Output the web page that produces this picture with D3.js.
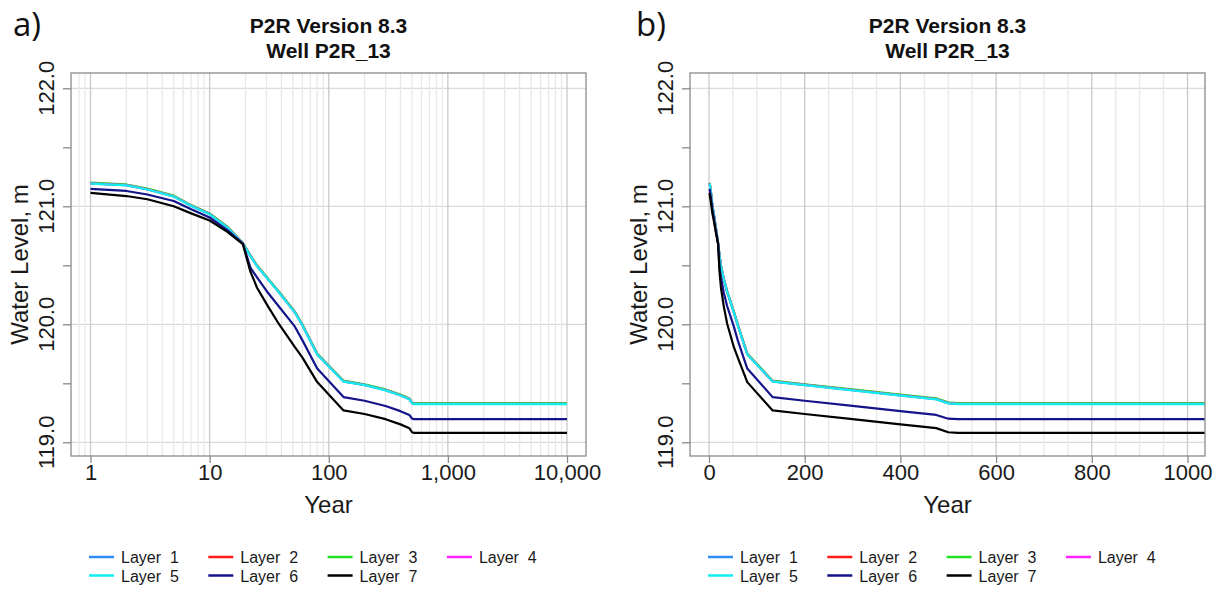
<!DOCTYPE html>
<html>
<head>
<meta charset="utf-8">
<script src="https://cdn.jsdelivr.net/npm/d3@7"></script>
<style>
  body { margin: 0; background: #fff; }
  svg { display: block; font-family: 'Liberation Sans', Arial, sans-serif; }
</style>
</head>
<body>
<svg id="chart" width="1225" height="592"></svg>
<script>
// model output times (years) and simulated water level per layer (m)
const YEARS = [1, 2, 3, 5, 7, 10, 14, 19, 22, 25, 31, 38, 52, 60, 80, 133, 200, 300, 400, 475, 500, 520, 10000]

const LAYER_1 = [121.195, 121.180, 121.145, 121.085, 121.005, 120.935, 120.825, 120.687, 120.580, 120.495, 120.382, 120.275, 120.102, 119.995, 119.747, 119.517, 119.487, 119.443, 119.399, 119.367, 119.333, 119.327, 119.327]
const LAYER_2 = [121.196, 121.181, 121.146, 121.086, 121.006, 120.936, 120.826, 120.688, 120.581, 120.496, 120.383, 120.276, 120.103, 119.996, 119.748, 119.518, 119.488, 119.444, 119.400, 119.368, 119.334, 119.328, 119.328]
const LAYER_3 = [121.200, 121.185, 121.150, 121.090, 121.010, 120.940, 120.830, 120.690, 120.585, 120.500, 120.387, 120.280, 120.107, 120.000, 119.752, 119.522, 119.492, 119.448, 119.404, 119.372, 119.338, 119.332, 119.332]
const LAYER_4 = [121.194, 121.179, 121.144, 121.084, 121.004, 120.934, 120.824, 120.686, 120.579, 120.494, 120.381, 120.274, 120.101, 119.994, 119.746, 119.516, 119.486, 119.442, 119.398, 119.366, 119.332, 119.326, 119.326]
const LAYER_5 = [121.192, 121.177, 121.142, 121.082, 121.002, 120.932, 120.822, 120.685, 120.577, 120.492, 120.379, 120.272, 120.099, 119.992, 119.744, 119.514, 119.484, 119.440, 119.396, 119.364, 119.330, 119.324, 119.324]
const LAYER_6 = [121.147, 121.130, 121.100, 121.045, 120.975, 120.905, 120.800, 120.685, 120.480, 120.397, 120.265, 120.153, 119.980, 119.866, 119.625, 119.383, 119.352, 119.308, 119.264, 119.232, 119.200, 119.197, 119.197]
const LAYER_7 = [121.113, 121.087, 121.060, 121.000, 120.940, 120.880, 120.785, 120.680, 120.446, 120.310, 120.150, 120.005, 119.806, 119.720, 119.510, 119.270, 119.240, 119.196, 119.152, 119.120, 119.085, 119.080, 119.080]

const LAYER_NAMES = ['Layer  1', 'Layer  2', 'Layer  3', 'Layer  4', 'Layer  5', 'Layer  6', 'Layer  7']
const LAYER_COLORS = ['#2f8cf5', '#ff1a1a', '#22e022', '#ff22ff', '#11eeee', '#14148a', '#000000']
const LAYER_VALUES = [LAYER_1, LAYER_2, LAYER_3, LAYER_4, LAYER_5, LAYER_6, LAYER_7]

const Y_TICKS = [119, 119.5, 120, 120.5, 121, 121.5, 122]
const Y_LABELS = [119, 120, 121, 122]
const LOG_TICKS = [1, 10, 100, 1000, 10000]
const LIN_TICKS = [0, 200, 400, 600, 800, 1000]
const TITLE_1 = 'P2R Version 8.3'
const TITLE_2 = 'Well P2R_13'

const TOP = 73
const BOTTOM = 456
const GRID_MAJOR = '#c9c9c9'
const GRID_MINOR = '#e8e8e8'
const FRAME = '#8a8a8a'

const svg = d3.select('#chart')
const y = d3.scaleLinear().domain([119, 122]).range([442.3, 88.3])

const series = LAYER_VALUES.map((vals, i) => ({
    name: LAYER_NAMES[i],
    color: LAYER_COLORS[i],
    points: YEARS.map((yr, j) => ({year: yr, value: vals[j]}))
}))

// minor grid positions
const logMinor = []
for (let k = -1; k <= 4; k++) {
    for (let m = 2; m <= 9; m++) logMinor.push(m * Math.pow(10, k))
}
const linMinor = d3.range(-50, 1100, 50).filter((d) => d % 200 !== 0)

const panels = [
    {id: 'a', tag: 'a)', tagX: 13, left: 71, right: 586,
     x: d3.scaleLog().domain([1, 10000]).range([90.5, 567]),
     major: LOG_TICKS, minor: logMinor, fmt: d3.format(',')},
    {id: 'b', tag: 'b)', tagX: 636, left: 690, right: 1205,
     x: d3.scaleLinear().domain([0, 1000]).range([709, 1187.5]),
     major: LIN_TICKS, minor: linMinor, fmt: d3.format('d')}
]

panels.forEach((p) => {
    const g = svg.append('g')
    const cx = (p.left + p.right) / 2
    const inBox = (v) => p.x(v) > p.left + 2 && p.x(v) < p.right - 1

    g.append('clipPath').attr('id', 'clip-' + p.id)
        .append('rect')
        .attr('x', p.left).attr('y', TOP)
        .attr('width', p.right - p.left).attr('height', BOTTOM - TOP)

    // grid
    g.selectAll('.hgrid').data(Y_LABELS).enter().append('line')
        .attr('x1', p.left).attr('x2', p.right)
        .attr('y1', (d) => y(d)).attr('y2', (d) => y(d))
        .attr('stroke', '#dadada').attr('stroke-width', 1.3)
    g.selectAll('.vminor').data(p.minor.filter(inBox)).enter().append('line')
        .attr('x1', (d) => p.x(d)).attr('x2', (d) => p.x(d))
        .attr('y1', TOP).attr('y2', BOTTOM)
        .attr('stroke', GRID_MINOR).attr('stroke-width', 1.3)
    g.selectAll('.vmajor').data(p.major.filter(inBox)).enter().append('line')
        .attr('x1', (d) => p.x(d)).attr('x2', (d) => p.x(d))
        .attr('y1', TOP).attr('y2', BOTTOM)
        .attr('stroke', GRID_MAJOR).attr('stroke-width', 1.3)

    // layers
    const line = d3.line().x((d) => p.x(d.year)).y((d) => y(d.value))
    g.append('g').attr('clip-path', `url(#clip-${p.id})`)
        .selectAll('path').data(series).enter().append('path')
        .attr('d', (d) => line(d.points))
        .attr('fill', 'none')
        .attr('stroke', (d) => d.color)
        .attr('stroke-width', 2.2)
        .attr('stroke-linejoin', 'round')

    // frame
    g.append('rect')
        .attr('x', p.left).attr('y', TOP)
        .attr('width', p.right - p.left).attr('height', BOTTOM - TOP)
        .attr('fill', 'none').attr('stroke', FRAME).attr('stroke-width', 1.3)

    // y axis
    const ya = g.append('g').attr('transform', `translate(${p.left},0)`)
        .call(d3.axisLeft(y).tickValues(Y_TICKS).tickSize(8).tickFormat(''))
    ya.select('.domain').remove()
    ya.selectAll('line').attr('stroke', FRAME).attr('stroke-width', 1.3)

    g.selectAll('.ylab').data(Y_LABELS).enter().append('text')
        .attr('transform', (d) => `translate(${p.left - 17},${y(d)}) rotate(-90)`)
        .attr('text-anchor', 'middle')
        .attr('font-size', 22).attr('fill', '#1a1a1a')
        .text((d) => d.toFixed(1))

    g.append('text')
        .attr('transform', `translate(${p.left - 43},${(TOP + BOTTOM) / 2}) rotate(-90)`)
        .attr('text-anchor', 'middle')
        .attr('font-size', 24).attr('fill', '#1a1a1a')
        .text('Water Level, m')

    // x axis
    const xa = g.append('g').attr('transform', `translate(0,${BOTTOM})`)
        .call(d3.axisBottom(p.x).tickValues(p.major).tickSizeInner(7).tickSizeOuter(0)
            .tickPadding(1).tickFormat(p.fmt))
    xa.select('.domain').remove()
    xa.selectAll('line').attr('stroke', FRAME).attr('stroke-width', 1.3)
    xa.selectAll('text')
        .attr('font-size', 22).attr('fill', '#1a1a1a')
        .attr('font-family', "'Liberation Sans', Arial, sans-serif")

    g.append('text')
        .attr('x', cx).attr('y', 513)
        .attr('text-anchor', 'middle')
        .attr('font-size', 24).attr('fill', '#1a1a1a')
        .text('Year')

    // titles
    g.append('text').attr('x', cx).attr('y', 33)
        .attr('text-anchor', 'middle').attr('font-size', 21).attr('font-weight', 'bold')
        .attr('fill', '#111').text(TITLE_1)
    g.append('text').attr('x', cx).attr('y', 58)
        .attr('text-anchor', 'middle').attr('font-size', 21).attr('font-weight', 'bold')
        .attr('fill', '#111').text(TITLE_2)

    g.append('text').attr('x', p.tagX).attr('y', 36)
        .attr('font-family', "'Open Sans', sans-serif")
        .attr('font-size', 33).attr('fill', '#111')
        .text(p.tag)

    // legend
    const items = g.selectAll('.legend').data(series).enter().append('g')
        .attr('transform', (d, i) => `translate(${p.left + 18 + (i % 4) * 119.3},${i < 4 ? 557 : 575.5})`)
    items.append('line')
        .attr('x1', 0).attr('x2', 25).attr('y1', 0).attr('y2', 0)
        .attr('stroke', (d) => d.color).attr('stroke-width', 2.5)
    items.append('text')
        .attr('x', 32).attr('y', 6)
        .attr('font-size', 16).attr('fill', '#1a1a1a')
        .style('white-space', 'pre')
        .text((d) => d.name)
})
</script>
</body>
</html>
